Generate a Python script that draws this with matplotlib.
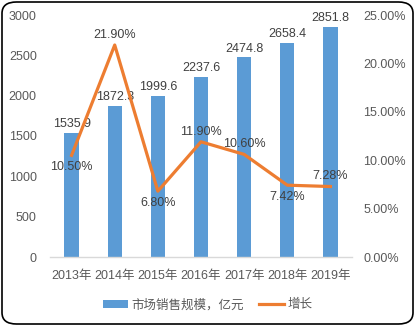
import matplotlib
matplotlib.use("Agg")
import matplotlib.pyplot as plt
from matplotlib.patches import FancyBboxPatch, Patch
from matplotlib.lines import Line2D
from matplotlib.ticker import FuncFormatter, MultipleLocator

plt.rcParams['font.family'] = ['Liberation Sans', 'Noto Sans CJK SC']

years = ["2013年", "2014年", "2015年", "2016年", "2017年", "2018年", "2019年"]
sales = [1535.9, 1872.3, 1999.6, 2237.6, 2474.8, 2658.4, 2851.8]
growth = [10.50, 21.90, 6.80, 11.90, 10.60, 7.42, 7.28]
growth_label_above = [False, True, False, True, True, False, True]

bar_color = "#5B9BD5"
line_color = "#ED7D31"
tick_color = "#595959"
label_color = "#404040"

W, H = 415, 326
fig = plt.figure(figsize=(W / 100, H / 100), dpi=100)

# rounded chart frame
frame = FancyBboxPatch((2 / W, 2 / H), (W - 4) / W, (H - 4) / H,
                       boxstyle="round,pad=0,rounding_size=0.035",
                       transform=fig.transFigure, fill=False,
                       edgecolor="black", linewidth=1.2)
fig.patches.append(frame)

ax = fig.add_axes([50 / W, (H - 257) / H, 302 / W, 242 / H])
x = list(range(len(years)))
ax.bar(x, sales, width=0.33, color=bar_color, zorder=2)
ax.set_xlim(-0.5, len(years) - 0.5)
ax.set_ylim(0, 3000)
ax.yaxis.set_major_locator(MultipleLocator(500))
ax.set_xticks(x)
ax.set_xticklabels(years)
for s in ["top", "right", "left"]:
    ax.spines[s].set_visible(False)
ax.spines["bottom"].set_color("#D9D9D9")
ax.spines["bottom"].set_linewidth(1.0)
ax.tick_params(axis="both", length=0, labelsize=9, colors=tick_color)
ax.tick_params(axis="x", pad=9.5)
ax.tick_params(axis="y", pad=9.5)

for xi, v in zip(x, sales):
    ax.annotate(f"{v:.1f}", (xi, v), xytext=(0, 2), textcoords="offset points",
                ha="center", va="bottom", fontsize=9, color=label_color, zorder=5)

ax2 = ax.twinx()
ax2.plot(x, growth, color=line_color, linewidth=2.3, zorder=3)
ax2.set_ylim(0, 25)
ax2.yaxis.set_major_locator(MultipleLocator(5))
ax2.yaxis.set_major_formatter(FuncFormatter(lambda v, p: f"{v:.2f}%"))
for s in ["top", "right", "left", "bottom"]:
    ax2.spines[s].set_visible(False)
ax2.tick_params(axis="y", length=0, labelsize=9, colors=tick_color, pad=8)

for xi, g, above in zip(x, growth, growth_label_above):
    off = 3 if above else -4
    ax2.annotate(f"{g:.2f}%", (xi, g), xytext=(0, off), textcoords="offset points",
                 ha="center", va="bottom" if above else "top",
                 fontsize=9, color=label_color, zorder=5)

handles = [Patch(facecolor=bar_color, edgecolor="none"),
           Line2D([0], [0], color=line_color, linewidth=2.3)]
fig.legend(handles, ["市场销售规模，亿元", "增长"], loc="center",
           bbox_to_anchor=(208 / W, (H - 305) / H), ncol=2, frameon=False,
           fontsize=9, labelcolor=tick_color, handlelength=2.0,
           handleheight=0.6, columnspacing=1.2, handletextpad=0.3)

fig.savefig("out.png", dpi=100)
